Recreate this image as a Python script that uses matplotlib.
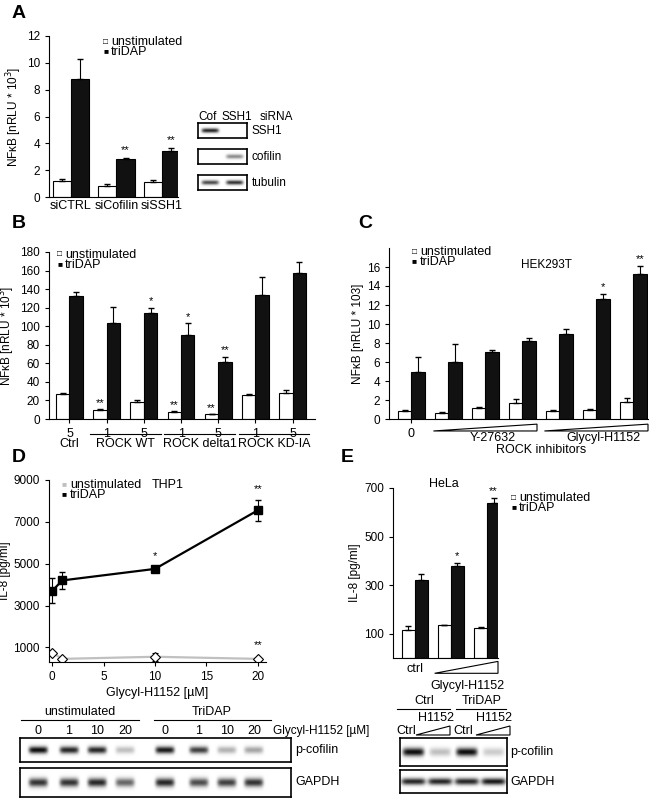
import numpy as np
import matplotlib.pyplot as plt
import matplotlib.transforms as mtransforms
from matplotlib.patches import Polygon

W, H = 655, 800
plt.rcParams['font.family'] = ['Liberation Sans', 'DejaVu Sans']
plt.rcParams['font.size'] = 8

# panel A
a_groups = ['siCTRL', 'siCofilin', 'siSSH1']
a_unstim = [1.2, 0.85, 1.1]
a_unstim_err = [0.15, 0.1, 0.15]
a_tri = [8.8, 2.8, 3.4]
a_tri_err = [1.5, 0.08, 0.25]

# panel B
b_doses = ['5', '1', '5', '1', '5', '1', '5']
b_unstim = [27, 10, 18, 8, 5, 26, 28]
b_unstim_err = [1, 0.5, 2, 1, 0.5, 0.5, 3]
b_tri = [133, 104, 114, 91, 61, 134, 157]
b_tri_err = [4, 17, 6, 12, 6, 19, 12]
b_unstim_stars = ['', '**', '', '**', '**', '', '']
b_tri_stars = ['', '', '*', '*', '**', '', '']

# panel C
c_unstim = [0.8, 0.6, 1.2, 1.7, 0.8, 0.9, 1.8]
c_unstim_err = [0.15, 0.1, 0.1, 0.4, 0.1, 0.2, 0.45]
c_tri = [4.9, 6.0, 7.1, 8.2, 9.0, 12.6, 15.3]
c_tri_err = [1.6, 1.9, 0.15, 0.35, 0.5, 0.6, 0.8]
c_tri_stars = ['', '', '', '', '', '*', '**']

# panel D
d_conc = [0, 1, 10, 20]
d_tri = [3700, 4200, 4750, 7550]
d_tri_err = [600, 400, 100, 500]
d_unstim = [750, 450, 550, 450]
d_unstim_err = [60, 80, 200, 60]

# panel E
e_unstim = [115, 135, 125]
e_unstim_err = [15, 2, 4]
e_tri = [320, 380, 640]
e_tri_err = [25, 10, 18]
e_tri_stars = ['', '*', '**']

# blot band intensities
a_blot = {'SSH1': [0.85, 0.0], 'cofilin': [0.0, 0.45], 'tubulin': [0.7, 0.8]}
d_blot_lanes = ['0', '1', '10', '20', '0', '1', '10', '20']
d_pcof = [0.95, 0.85, 0.85, 0.25, 0.9, 0.75, 0.3, 0.35]
d_gapdh = [0.8, 0.8, 0.85, 0.6, 0.85, 0.7, 0.75, 0.8]
e_pcof = [0.95, 0.25, 0.95, 0.2]
e_gapdh = [0.85, 0.85, 0.85, 0.9]

# lane centres of blot D, in pixels
d_lane_px = [38, 69, 97, 125, 165, 199, 227, 254]

fig = plt.figure(figsize=(W / 100, H / 100), dpi=100)


def px_axes(x0, y0, x1, y1):
    return fig.add_axes([x0 / W, 1 - y1 / H, (x1 - x0) / W, (y1 - y0) / H])


def ftext(x, y, s, **kw):
    fig.text(x / W, 1 - y / H, s, **kw)


def style(ax):
    for s in ['top', 'right']:
        ax.spines[s].set_visible(False)
    ax.tick_params(length=3, width=0.8, labelsize=8.5)


def bars(ax, un, une, tr, tre, w=0.36):
    x = np.arange(len(un))
    ax.bar(x - w / 2, un, w, color='white', edgecolor='black', linewidth=0.8)
    ax.bar(x + w / 2, tr, w, color='#111111', edgecolor='black', linewidth=0.8)
    ax.errorbar(x - w / 2, un, yerr=[np.zeros(len(un)), une], fmt='none',
                ecolor='black', elinewidth=0.8, capsize=2)
    ax.errorbar(x + w / 2, tr, yerr=[np.zeros(len(tr)), tre], fmt='none',
                ecolor='black', elinewidth=0.8, capsize=2)
    return x


def legend(x, y, sq_un='white', sq_tri='black', dy=10):
    ftext(x, y, '\u25a0', color=sq_tri, fontsize=6, va='center')
    ftext(x, y - dy, '\u25a1' if sq_un == 'white' else '\u25a0',
          color='black' if sq_un == 'white' else sq_un, fontsize=6, va='center')
    ftext(x + 8, y - dy, 'unstimulated', fontsize=9, va='center')
    ftext(x + 8, y, 'triDAP', fontsize=9, va='center')


def blot(ax, vals, width=0.28, centers=None):
    xs = np.linspace(0, 1, 400)
    ys = np.linspace(-1, 1, 60)
    X, Y = np.meshgrid(xs, ys)
    img = np.zeros_like(X)
    n = len(vals)
    for i, v in enumerate(vals):
        cx = (i + 0.5) / n if centers is None else centers[i]
        img += v * np.exp(-((X - cx) / (width / n)) ** 6) * np.exp(-(Y / 0.3) ** 2)
    ax.imshow(1 - np.clip(img, 0, 1), cmap='gray', vmin=0, vmax=1,
              aspect='auto', extent=[0, 1, -1, 1])
    ax.set_xticks([])
    ax.set_yticks([])
    for s in ax.spines.values():
        s.set_linewidth(1.2)


# ---------- A
ax = px_axes(49, 36, 178, 197)
style(ax)
x = bars(ax, a_unstim, a_unstim_err, a_tri, a_tri_err, w=0.4)
ax.set_ylim(0, 12)
ax.set_xlim(-0.48, 2.35)
ax.set_yticks(range(0, 13, 2))
ax.set_xticks(x)
ax.set_xticklabels(a_groups, fontsize=9)
ax.tick_params(axis='x', length=0, pad=2)
ax.set_ylabel('NF\u03baB [nRLU * 10$^3$]', fontsize=8.5, labelpad=2)
for i in [1, 2]:
    ax.text(x[i] + 0.2, a_tri[i] + a_tri_err[i] + 0.4, '**', ha='center', fontsize=8)
legend(103, 52)
ftext(12, 14, 'A', fontsize=14, fontweight='bold', va='center')

ftext(208, 117, 'Cof', fontsize=8.5, va='center', ha='center')
ftext(237, 117, 'SSH1', fontsize=8.5, va='center', ha='center')
ftext(260, 117, 'siRNA', fontsize=8.5, va='center')
for k, (name, vals) in enumerate(a_blot.items()):
    y0 = 123 + k * 26
    bax = px_axes(198, y0, 247, y0 + 15)
    blot(bax, vals, width=0.35)
    ftext(252, y0 + 8, name, fontsize=8.5, va='center')

# ---------- B
ax = px_axes(49, 252, 315, 419)
style(ax)
x = bars(ax, b_unstim, b_unstim_err, b_tri, b_tri_err, w=0.36)
ax.set_ylim(0, 180)
ax.set_xlim(-0.55, 6.6)
ax.set_yticks(range(0, 181, 20))
ax.set_xticks(x)
ax.set_xticklabels(b_doses, fontsize=9)
ax.set_ylabel('NF\u03baB [nRLU * 10$^3$]', fontsize=8.5, labelpad=2)
for i in range(len(x)):
    if b_unstim_stars[i]:
        ax.text(x[i] - 0.18, b_unstim[i] + b_unstim_err[i] + 3, b_unstim_stars[i],
                ha='center', fontsize=8)
    if b_tri_stars[i]:
        ax.text(x[i] + 0.18, b_tri[i] + b_tri_err[i] + 4, b_tri_stars[i],
                ha='center', fontsize=8)
trB = mtransforms.blended_transform_factory(ax.transData, ax.transAxes)
ax.text(0, -0.15, 'Ctrl', transform=trB, ha='center', va='center', fontsize=9)
for j, name in enumerate(['ROCK WT', 'ROCK delta1', 'ROCK KD-IA']):
    a0, a1 = 1 + 2 * j, 2 + 2 * j
    ax.plot([a0 - 0.45, a1 + 0.45], [-0.09, -0.09], transform=trB, color='black',
            lw=0.8, clip_on=False)
    ax.text((a0 + a1) / 2, -0.15, name, transform=trB, ha='center', va='center',
            fontsize=9)
legend(57, 265)
ftext(12, 223, 'B', fontsize=14, fontweight='bold', va='center')

# ---------- C
ax = px_axes(389, 248, 648, 419)
style(ax)
x = bars(ax, c_unstim, c_unstim_err, c_tri, c_tri_err, w=0.36)
ax.set_ylim(0, 18)
ax.set_xlim(-0.6, 6.4)
ax.set_yticks(range(0, 17, 2))
ax.set_xticks([0])
ax.set_xticklabels(['0'], fontsize=9)
ax.set_ylabel('NF\u03baB [nRLU * 103]', fontsize=8.5, labelpad=2)
for i in range(len(x)):
    if c_tri_stars[i]:
        ax.text(x[i] + 0.18, c_tri[i] + c_tri_err[i] + 0.4, c_tri_stars[i],
                ha='center', fontsize=8)
trC = mtransforms.blended_transform_factory(ax.transData, ax.transAxes)
for a0, a1, name in [(1, 3, 'Y-27632'), (4, 6, 'Glycyl-H1152')]:
    tri = Polygon([[a0 - 0.4, -0.07], [a1 + 0.4, -0.03], [a1 + 0.4, -0.07]],
                  closed=True, fill=False, edgecolor='black', lw=0.8,
                  transform=trC, clip_on=False)
    ax.add_patch(tri)
    ax.text((a0 + a1) / 2 + 0.2, -0.11, name, transform=trC, ha='center',
            va='center', fontsize=9)
ax.text(3.5, -0.18, 'ROCK inhibitors', transform=trC, ha='center', va='center',
        fontsize=9)
ftext(521, 265, 'HEK293T', fontsize=8.5, va='center')
legend(412, 262)
ftext(358, 223, 'C', fontsize=14, fontweight='bold', va='center')

# ---------- D
ax = px_axes(49, 480, 266, 662)
style(ax)
ax.errorbar(d_conc, d_unstim, yerr=d_unstim_err, color='#c0c0c0', lw=1.6,
            marker='D', ms=5, mfc='white', mec='black', mew=0.8,
            ecolor='black', elinewidth=0.8, capsize=2)
ax.errorbar(d_conc, d_tri, yerr=d_tri_err, color='black', lw=1.6,
            marker='s', ms=6, ecolor='black', elinewidth=0.8, capsize=2)
ax.set_ylim(300, 9000)
ax.set_xlim(-0.3, 20.8)
ax.set_yticks([1000, 3000, 5000, 7000, 9000])
ax.set_xticks([0, 5, 10, 15, 20])
ax.set_ylabel('IL-8 [pg/ml]', fontsize=8.5, labelpad=2)
ax.set_xlabel('Glycyl-H1152 [\u00b5M]', fontsize=9, labelpad=3)
ax.text(10, d_tri[2] + d_tri_err[2] + 350, '*', ha='center', fontsize=8)
ax.text(20, d_tri[3] + d_tri_err[3] + 350, '**', ha='center', fontsize=8)
ax.text(20, d_unstim[3] + 500, '**', ha='center', fontsize=8)
legend(62, 495, sq_un='#c0c0c0')
ftext(152, 485, 'THP1', fontsize=9, va='center')
ftext(12, 457, 'D', fontsize=14, fontweight='bold', va='center')

# blot D
ftext(80, 712, 'unstimulated', fontsize=9, ha='center', va='center')
ftext(212, 712, 'TriDAP', fontsize=9, ha='center', va='center')
fig.add_artist(plt.Line2D([21 / W, 139 / W], [1 - 720 / H] * 2, color='black', lw=0.8))
fig.add_artist(plt.Line2D([154 / W, 271 / W], [1 - 720 / H] * 2, color='black', lw=0.8))
for xl, lab in zip(d_lane_px, d_blot_lanes):
    ftext(xl, 731, lab, fontsize=9, ha='center', va='center')
ftext(273, 731, 'Glycyl-H1152 [\u00b5M]', fontsize=8.5, va='center')
centers = [(xl - 20) / 271 for xl in d_lane_px]
bax = px_axes(20, 738, 291, 762)
blot(bax, d_pcof, centers=centers)
ftext(295, 750, 'p-cofilin', fontsize=9, va='center')
bax = px_axes(20, 768, 291, 797)
blot(bax, d_gapdh, centers=centers)
ftext(295, 782, 'GAPDH', fontsize=9, va='center')

# ---------- E
ax = px_axes(393, 488, 498, 658)
style(ax)
x = bars(ax, e_unstim, e_unstim_err, e_tri, e_tri_err, w=0.36)
ax.set_ylim(0, 700)
ax.set_xlim(-0.6, 2.3)
ax.set_yticks([100, 300, 500, 700])
ax.set_xticks([0])
ax.set_xticklabels(['ctrl'], fontsize=9)
ax.tick_params(axis='x', length=0)
ax.set_ylabel('IL-8 [pg/ml]', fontsize=8.5, labelpad=2)
for i in range(len(x)):
    if e_tri_stars[i]:
        ax.text(x[i] + 0.18, e_tri[i] + e_tri_err[i] + 18, e_tri_stars[i],
                ha='center', fontsize=8)
trE = mtransforms.blended_transform_factory(ax.transData, ax.transAxes)
ax.add_patch(Polygon([[0.55, -0.09], [2.3, -0.02], [2.3, -0.09]], closed=True,
                     fill=False, edgecolor='black', lw=0.8, transform=trE,
                     clip_on=False))
ax.text(1.45, -0.13, 'Glycyl-H1152', transform=trE, ha='center', va='top',
        fontsize=9)
ftext(444, 484, 'HeLa', fontsize=9, ha='center', va='center')
legend(511, 508)
ftext(341, 457, 'E', fontsize=14, fontweight='bold', va='center')

# blot E
ftext(424, 701, 'Ctrl', fontsize=9, ha='center', va='center')
ftext(482, 701, 'TriDAP', fontsize=9, ha='center', va='center')
fig.add_artist(plt.Line2D([397 / W, 450 / W], [1 - 709 / H] * 2, color='black', lw=0.8))
fig.add_artist(plt.Line2D([456 / W, 506 / W], [1 - 709 / H] * 2, color='black', lw=0.8))
ftext(436, 718, 'H1152', fontsize=9, ha='center', va='center')
ftext(494, 718, 'H1152', fontsize=9, ha='center', va='center')
ftext(406, 731, 'Ctrl', fontsize=9, ha='center', va='center')
ftext(463, 731, 'Ctrl', fontsize=9, ha='center', va='center')
for xa in [416, 476]:
    fig.add_artist(Polygon([[xa / W, 1 - 735 / H], [(xa + 34) / W, 1 - 726 / H],
                            [(xa + 34) / W, 1 - 735 / H]], closed=True, fill=False,
                           edgecolor='black', lw=0.8, transform=fig.transFigure))
bax = px_axes(400, 738, 507, 766)
blot(bax, e_pcof, width=0.4)
ftext(510, 752, 'p-cofilin', fontsize=9, va='center')
bax = px_axes(400, 770, 507, 793)
blot(bax, e_gapdh, width=0.45)
ftext(510, 782, 'GAPDH', fontsize=9, va='center')

fig.savefig('out.png', dpi=100)
